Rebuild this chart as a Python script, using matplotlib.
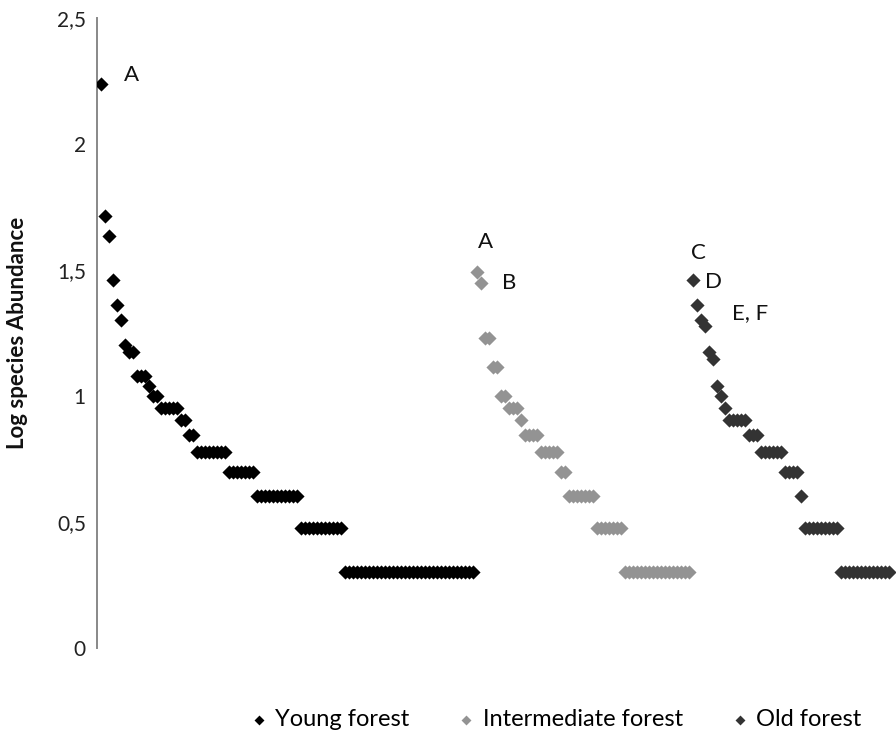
import numpy as np
import matplotlib.pyplot as plt
from matplotlib.ticker import FuncFormatter

plt.rcParams['font.family'] = ['Lato', 'DejaVu Sans']

# log abundance levels per forest, with how many species sit at each level
young_levels = [2.24, 1.716, 1.633, 1.462, 1.362, 1.301, 1.204, 1.176, 1.079, 1.041,
                1.0, 0.954, 0.903, 0.845, 0.778, 0.699, 0.602, 0.477, 0.301]
young_counts = [1, 1, 1, 1, 1, 1, 1, 2, 3, 1, 2, 5, 2, 2, 8, 7, 11, 11, 33]

intermediate_levels = [1.491, 1.447, 1.230, 1.114, 1.0, 0.954, 0.903, 0.845, 0.778,
                       0.699, 0.602, 0.477, 0.301]
intermediate_counts = [1, 1, 2, 2, 2, 3, 1, 4, 5, 2, 7, 7, 17]

old_levels = [1.462, 1.362, 1.301, 1.279, 1.176, 1.146, 1.041, 1.0, 0.954, 0.903,
              0.845, 0.778, 0.699, 0.602, 0.477, 0.301]
old_counts = [1, 1, 1, 1, 1, 1, 1, 1, 1, 5, 3, 6, 4, 1, 9, 13]

series_names = ['Young forest', 'Intermediate forest', 'Old forest']
series_colors = ['#000000', '#939393', '#333333']

# (series, species rank within series, text, offset in points)
point_labels = [
    (0, 0, 'A', (22, 6)),
    (1, 0, 'A', (6, 22)),
    (1, 1, 'B', (20, 0)),
    (2, 0, 'C', (4, 19)),
    (2, 0, 'D', (15, -2)),
    (2, 1, 'E, F', (38, -6)),
]

y_ticks = [0, 0.5, 1, 1.5, 2, 2.5]

fig = plt.figure(figsize=(8.96, 7.39), dpi=100)
ax = fig.add_axes([97 / 896, 91 / 739, 799 / 896, 630 / 739])

all_levels = [young_levels, intermediate_levels, old_levels]
all_counts = [young_counts, intermediate_counts, old_counts]

start = 1
positions = []
for levels, counts, name, color in zip(all_levels, all_counts, series_names, series_colors):
    y = np.repeat(levels, counts)
    x = np.arange(start, start + len(y))
    start += len(y)
    positions.append((x, y))
    ax.scatter(x, y, marker='D', s=52, color=color, linewidths=0, label=name, zorder=3)

for s_idx, p_idx, text, offset in point_labels:
    x, y = positions[s_idx]
    ax.annotate(text, xy=(x[p_idx], y[p_idx]), xytext=offset, textcoords='offset points',
                ha='center', va='center', fontsize=16, color='#111111')

ax.set_xlim(0, 199.75)
ax.set_ylim(0, 2.5)
ax.set_yticks(y_ticks)
ax.yaxis.set_major_formatter(FuncFormatter(lambda v, pos: f'{v:g}'.replace('.', ',')))
ax.tick_params(axis='y', length=0, pad=8, labelsize=15, labelcolor='#222222')
ax.set_xticks([])

for side in ['top', 'right', 'bottom']:
    ax.spines[side].set_visible(False)
ax.spines['left'].set_color('#888888')
ax.spines['left'].set_linewidth(1.4)

ax.set_ylabel('Log species Abundance', fontsize=16, fontweight='bold', color='#111111')
ax.yaxis.set_label_coords(-0.086, 0.5)

fig.legend(loc='center', bbox_to_anchor=(0.62, 0.026), ncol=3, frameon=False,
           fontsize=17, handlelength=0.8, handletextpad=0.3, columnspacing=2.0,
           markerscale=0.7)

fig.savefig('out.png', dpi=100)
